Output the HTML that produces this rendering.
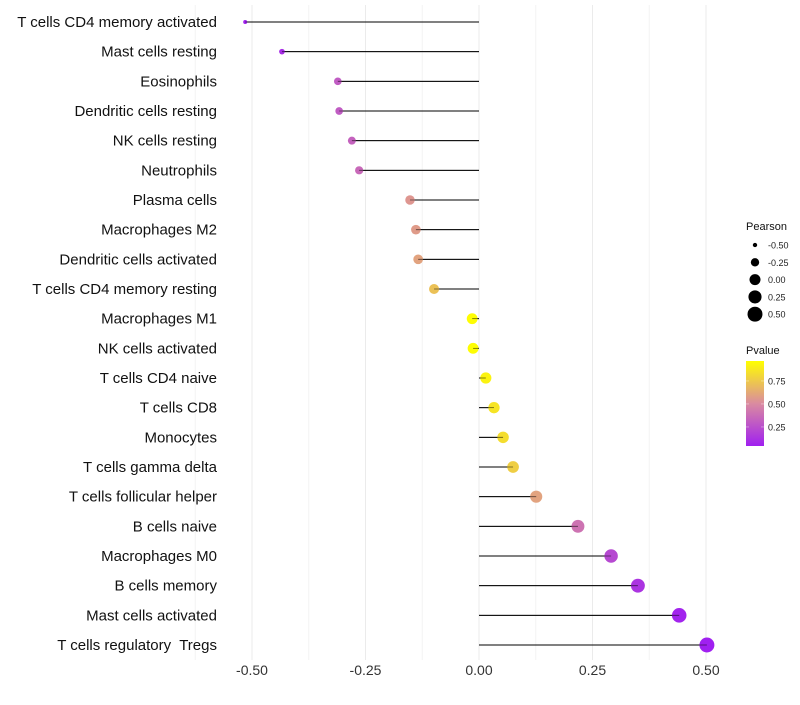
<!DOCTYPE html>
<html><head><meta charset="utf-8"><style>
body{margin:0;background:#fff;font-family:"Liberation Sans",sans-serif}
text{white-space:pre}
</style></head><body>
<svg id="c" width="800" height="700" xmlns="http://www.w3.org/2000/svg" xml:space="preserve"></svg>
<script>
const categories=["T cells CD4 memory activated","Mast cells resting","Eosinophils","Dendritic cells resting","NK cells resting","Neutrophils","Plasma cells","Macrophages M2","Dendritic cells activated","T cells CD4 memory resting","Macrophages M1","NK cells activated","T cells CD4 naive","T cells CD8","Monocytes","T cells gamma delta","T cells follicular helper","B cells naive","Macrophages M0","B cells memory","Mast cells activated","T cells regulatory  Tregs"];
const pearson=[-0.515,-0.434,-0.311,-0.308,-0.280,-0.264,-0.152,-0.139,-0.134,-0.099,-0.015,-0.013,0.015,0.033,0.053,0.075,0.126,0.218,0.291,0.350,0.441,0.502];
const pvalue=[0.05,0.1,0.3,0.3,0.33,0.36,0.55,0.57,0.6,0.72,0.96,0.96,0.92,0.86,0.83,0.77,0.6,0.4,0.22,0.13,0.06,0.03];
const xTicks=[-0.5,-0.25,0,0.25,0.5];
const xTickLabels=["-0.50","-0.25","0.00","0.25","0.50"];
const sizeLegend=[-0.5,-0.25,0,0.25,0.5];
const pLegend=[0.75,0.5,0.25];

const svg=document.getElementById('c');const NS="http://www.w3.org/2000/svg";
function mk(t,a,p){const e=document.createElementNS(NS,t);for(const k in a)e.setAttribute(k,a[k]);(p||svg).appendChild(e);return e;}
const xs=v=>479+v*454;
const ys=i=>22+i*(623/21);
const rad=v=>Math.sqrt(4+52*Math.max(0,v+0.515)/1.017);
function lerp(a,b,t){return a.map((x,i)=>Math.round(x+(b[i]-x)*t));}
const stops=[[160,32,240],[218,139,160],[255,255,0]];
function col(p){const t=Math.min(1,Math.max(0,(p-0.043)/(0.967-0.043)));const c=t<0.5?lerp(stops[0],stops[1],t*2):lerp(stops[1],stops[2],(t-0.5)*2);return `rgb(${c})`;}
for(let v=-0.625;v<=0.56;v+=0.125){const g=mk('line',{x1:xs(v),x2:xs(v),y1:5,y2:660,stroke:Math.abs((v*4)%1)<1e-6?'#ebebeb':'#f4f4f4','stroke-width':1});
}
xTicks.forEach((v,i)=>{const t=mk('text',{x:xs(v),y:675,'text-anchor':'middle','font-size':14,fill:'#333'});t.textContent=xTickLabels[i];
});
categories.forEach((c,i)=>{const y=ys(i);
const t=mk('text',{x:217,y:y+5,'text-anchor':'end','font-size':15,fill:'#111'});t.textContent=c;

const l=mk('line',{x1:xs(0),x2:xs(pearson[i]),y1:y,y2:y,stroke:'#000','stroke-width':1});

const d=mk('circle',{cx:xs(pearson[i]),cy:y,r:rad(pearson[i]),fill:col(pvalue[i])});

mk('line',{x1:xs(0),x2:xs(pearson[i]),y1:y,y2:y,stroke:'#000','stroke-width':0.8,opacity:0.6});
});
let lt=mk('text',{x:746,y:230,'font-size':11,fill:'#111'});lt.textContent="Pearson";

sizeLegend.forEach((v,i)=>{const y=245+i*17.3;
const c=mk('circle',{cx:755,cy:y,r:rad(v),fill:'#000'});
const t=mk('text',{x:768,y:y+3.5,'font-size':9,fill:'#222'});t.textContent=xTickLabels[i];});
lt=mk('text',{x:746,y:354,'font-size':11,fill:'#111'});lt.textContent="Pvalue";

const defs=mk('defs',{});const gr=mk('linearGradient',{id:'g',x1:0,y1:1,x2:0,y2:0},defs);
[[0,stops[0]],[0.5,stops[1]],[1,stops[2]]].forEach(s=>mk('stop',{offset:s[0],'stop-color':`rgb(${s[1]})`},gr));
const cb=mk('rect',{x:746,y:361,width:18,height:85,fill:'url(#g)'});
pLegend.forEach(p=>{const y=446-(p-0.043)/(0.924)*85;
mk('line',{x1:746,x2:749,y1:y,y2:y,stroke:'#fff','stroke-width':0.6,opacity:0.6});mk('line',{x1:761,x2:764,y1:y,y2:y,stroke:'#fff','stroke-width':0.6,opacity:0.6});
const t=mk('text',{x:768,y:y+3.5,'font-size':9,fill:'#222'});t.textContent=p.toFixed(2);});
</script>
</body></html>
